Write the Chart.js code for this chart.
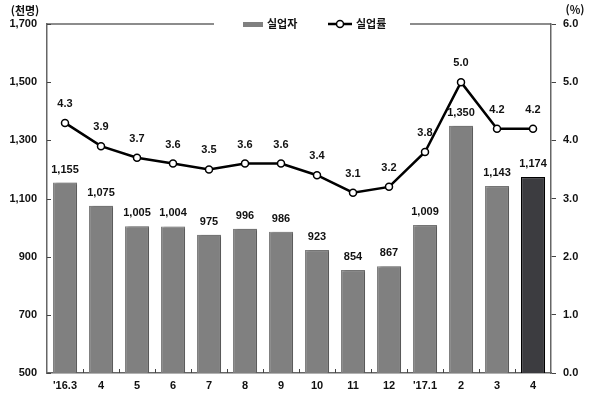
<!DOCTYPE html>
<html lang="ko">
<head>
<meta charset="UTF-8">
<title>실업자 및 실업률</title>
<script src="https://cdn.jsdelivr.net/npm/chart.js@4.4.1/dist/chart.umd.min.js"></script>
<style>
  html, body { margin: 0; padding: 0; background: white; }
  #wrap { width: 600px; height: 399px; }
</style>
</head>
<body>
<div id="wrap"><canvas id="chart" width="600" height="399"></canvas></div>
<script>
// data
const months = ["'16.3", "4", "5", "6", "7", "8", "9", "10", "11", "12", "'17.1", "2", "3", "4"];
const unemployed = [1155, 1075, 1005, 1004, 975, 996, 986, 923, 854, 867, 1009, 1350, 1143, 1174];
const unempRate = [4.3, 3.9, 3.7, 3.6, 3.5, 3.6, 3.6, 3.4, 3.1, 3.2, 3.8, 5.0, 4.2, 4.2];
const leftTicks = [500, 700, 900, 1100, 1300, 1500, 1700];
const rightTicks = [0, 1, 2, 3, 4, 5, 6];

const FONT = "bold 11px 'Liberation Sans', 'Noto Sans CJK KR', sans-serif";
const KFONT = "bold 11px 'Noto Sans CJK KR', sans-serif";
const FRAME = '#666';

const barColors = unemployed.map((v, i) => i === unemployed.length - 1 ? '#3c3c40' : '#808080');
const barBorders = unemployed.map((v, i) => i === unemployed.length - 1 ? '#000' : '#808080');

const fmt = n => n.toLocaleString('en-US');

// soft shadow on the right side of the bars, like the original
const barShadow = {
  id: 'barShadow',
  beforeDatasetDraw(chart, args) {
    if (args.index !== 1) return;
    const ctx = chart.ctx;
    ctx.save();
    ctx.shadowColor = 'rgba(0,0,0,0.3)';
    ctx.shadowOffsetX = 3;
    ctx.shadowOffsetY = 0;
    ctx.shadowBlur = 2;
  },
  afterDatasetDraw(chart, args) {
    if (args.index !== 1) return;
    chart.ctx.restore();
  }
};

const extras = {
  id: 'extras',
  afterDraw(chart) {
    const ctx = chart.ctx;
    const area = chart.chartArea;
    const x = chart.scales.x, y = chart.scales.y;
    ctx.save();

    // top frame line
    ctx.strokeStyle = FRAME;
    ctx.lineWidth = 1.5;
    ctx.beginPath();
    ctx.moveTo(area.left, area.top);
    ctx.lineTo(area.right, area.top);
    ctx.stroke();

    // inward ticks: left axis and category boundaries
    ctx.lineWidth = 1;
    ctx.strokeStyle = '#444';
    leftTicks.forEach(v => {
      const py = Math.round(y.getPixelForValue(v)) + 0.5;
      ctx.beginPath();
      ctx.moveTo(area.left, py);
      ctx.lineTo(area.left + 4, py);
      ctx.stroke();
    });
    for (let i = 1; i < months.length; i++) {
      const px = Math.round((x.getPixelForValue(i - 1) + x.getPixelForValue(i)) / 2) + 0.5;
      ctx.beginPath();
      ctx.moveTo(px, area.bottom);
      ctx.lineTo(px, area.bottom - 4);
      ctx.stroke();
    }

    // value labels
    ctx.fillStyle = '#111';
    ctx.font = FONT;
    ctx.textAlign = 'center';
    ctx.textBaseline = 'middle';
    chart.getDatasetMeta(1).data.forEach((bar, i) => {
      ctx.fillText(fmt(unemployed[i]), bar.x, bar.y - 13);
    });
    chart.getDatasetMeta(0).data.forEach((pt, i) => {
      ctx.fillText(unempRate[i].toFixed(1), pt.x, pt.y - 19);
    });

    // unit captions
    ctx.font = KFONT;
    ctx.fillText('(천명)', 25, 11);
    ctx.fillText('(%)', 575, 10);

    // legend
    ctx.fillStyle = '#fff';
    ctx.fillRect(214, 14, 196, 20);
    ctx.fillStyle = '#808080';
    ctx.fillRect(243, 22, 20, 5);
    ctx.fillStyle = '#111';
    ctx.textAlign = 'left';
    ctx.fillText('실업자', 267, 24);
    ctx.strokeStyle = '#000';
    ctx.lineWidth = 2.5;
    ctx.beginPath();
    ctx.moveTo(328, 24);
    ctx.lineTo(352, 24);
    ctx.stroke();
    ctx.fillStyle = '#fff';
    ctx.lineWidth = 1.5;
    ctx.beginPath();
    ctx.arc(340, 24, 3.5, 0, Math.PI * 2);
    ctx.fill();
    ctx.stroke();
    ctx.fillStyle = '#111';
    ctx.fillText('실업률', 356, 24);
    ctx.restore();
  }
};

new Chart(document.getElementById('chart'), {
  data: {
    labels: months,
    datasets: [
      {
        type: 'line',
        label: '실업률',
        data: unempRate,
        yAxisID: 'y1',
        order: 0,
        borderColor: '#000',
        borderWidth: 2.5,
        pointRadius: 3.5,
        pointBackgroundColor: '#fff',
        pointBorderColor: '#000',
        pointBorderWidth: 1.5,
        tension: 0
      },
      {
        type: 'bar',
        label: '실업자',
        data: unemployed,
        yAxisID: 'y',
        order: 1,
        backgroundColor: barColors,
        borderColor: barBorders,
        borderWidth: 1.2,
        barPercentage: 0.67,
        categoryPercentage: 1
      }
    ]
  },
  options: {
    responsive: false,
    animation: false,
    layout: { padding: { top: 24, left: 0, right: 0, bottom: 0 } },
    plugins: { legend: { display: false }, tooltip: { enabled: false } },
    scales: {
      x: {
        offset: true,
        grid: { display: false, drawTicks: false },
        border: { display: true, color: FRAME, width: 1.5 },
        ticks: { color: '#111', font: { family: "'Liberation Sans', sans-serif", size: 11, weight: 'bold' }, padding: 6, maxRotation: 0, autoSkip: false },
        afterFit(s) { s.height = 26; }
      },
      y: {
        position: 'left',
        min: 500,
        max: 1700,
        afterBuildTicks(s) { s.ticks = leftTicks.map(v => ({ value: v })); },
        grid: { display: false, drawTicks: false },
        border: { display: true, color: FRAME, width: 1.5 },
        ticks: { color: '#111', font: { family: "'Liberation Sans', sans-serif", size: 11, weight: 'bold' }, padding: 10, callback: v => fmt(v) },
        afterFit(s) { s.width = 47; }
      },
      y1: {
        position: 'right',
        min: 0,
        max: 6,
        afterBuildTicks(s) { s.ticks = rightTicks.map(v => ({ value: v })); },
        grid: { drawOnChartArea: false, drawTicks: true, tickLength: 5, color: '#444' },
        border: { display: true, color: FRAME, width: 1.5 },
        ticks: { color: '#111', font: { family: "'Liberation Sans', sans-serif", size: 11, weight: 'bold' }, padding: 7, callback: v => v.toFixed(1) },
        afterFit(s) { s.width = 49; }
      }
    }
  },
  plugins: [barShadow, extras]
});
</script>
</body>
</html>
